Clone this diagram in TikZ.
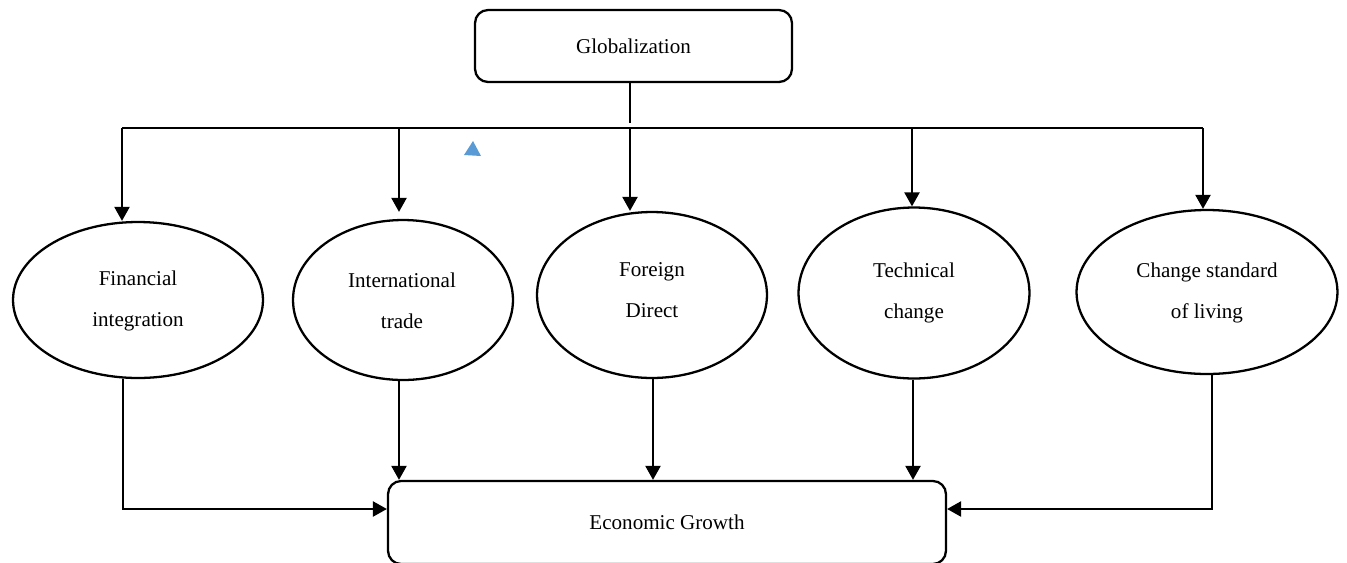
\documentclass[tikz,border=0pt]{standalone}
\usepackage{fontspec}
\setmainfont{Liberation Serif}
\usetikzlibrary{shapes.geometric,arrows.meta}
\definecolor{markblue}{RGB}{91,155,213}
\begin{document}
\begin{tikzpicture}[x=0.02cm,y=-0.02cm,
  box/.style={draw,line width=1.3pt,rounded corners=0.26cm,inner sep=0,font=\fontsize{12}{14}\selectfont},
  ell/.style={draw,ellipse,line width=1.3pt,inner sep=0},
  txt/.style={align=center,font=\fontsize{12}{23.5}\selectfont,inner sep=0},
  arr/.style={line width=1.3pt,-{Triangle[length=0.28cm,width=0.3cm]}},
  ln/.style={line width=1.3pt},
  bus/.style={line width=0.8pt}]
\useasboundingbox (0,0) rectangle (1347,562);

\node[box,minimum width=6.34cm,minimum height=1.44cm] (glob) at (633.5,46) {Globalization};
\node[box,minimum width=11.16cm,minimum height=1.66cm] (eg) at (667,522.5) {Economic Growth};

\node[ell,minimum width=5.0cm,minimum height=3.12cm] (e1) at (138,300) {};
\node[ell,minimum width=4.4cm,minimum height=3.2cm] (e2) at (403,300) {};
\node[ell,minimum width=4.6cm,minimum height=3.32cm] (e3) at (652,295) {};
\node[ell,minimum width=4.62cm,minimum height=3.42cm] (e4) at (914,293) {};
\node[ell,minimum width=5.22cm,minimum height=3.28cm] (e5) at (1207,292) {};

\node[txt] (t1) at (138,301) {Financial\\integration};
\node[txt] (t2) at (402,301) {International\\trade};
\node[txt] (t3) at (652,290) {Foreign\\Direct};
\node[txt] (t4) at (914,293) {Technical\\change};
\node[txt] (t5) at (1207,293) {Change standard\\of living};

% top connectors
\coordinate (g) at (630,123);
\draw[ln] (glob.south -| g) -- (g);
\coordinate (b1) at (122,128);
\coordinate (b2) at (399,128);
\coordinate (b3) at (630,128);
\coordinate (b4) at (912,128);
\coordinate (b5) at (1203,128);
\draw[bus] (b1) -- (b5);
\draw[arr] (b1) -- (b1 |- e1.north);
\draw[arr,shorten >=0.14cm] (b2) -- (b2 |- e2.north);
\draw[arr] (b3) -- (b3 |- e3.north);
\draw[arr] (b4) -- (b4 |- e4.north);
\draw[arr] (b5) -- (b5 |- e5.north);

% bottom connectors
\coordinate (c1) at (123,509);
\coordinate (c2) at (399,480);
\coordinate (c3) at (653,480);
\coordinate (c4) at (913,480);
\coordinate (c5) at (1212,509);
\draw[arr] (c1 |- e1.south) -- (c1) -- (eg.west |- c1);
\draw[arr] (e2.south -| c2) -- (eg.north -| c2);
\draw[arr] (e3.south -| c3) -- (eg.north -| c3);
\draw[arr] (e4.south -| c4) -- (eg.north -| c4);
\draw[arr] (c5 |- e5.south) -- (c5) -- (eg.east |- c5);

% stray marker
\fill[markblue] (464,155) -- (481,156) -- (473,141) -- cycle;
\end{tikzpicture}
\end{document}
